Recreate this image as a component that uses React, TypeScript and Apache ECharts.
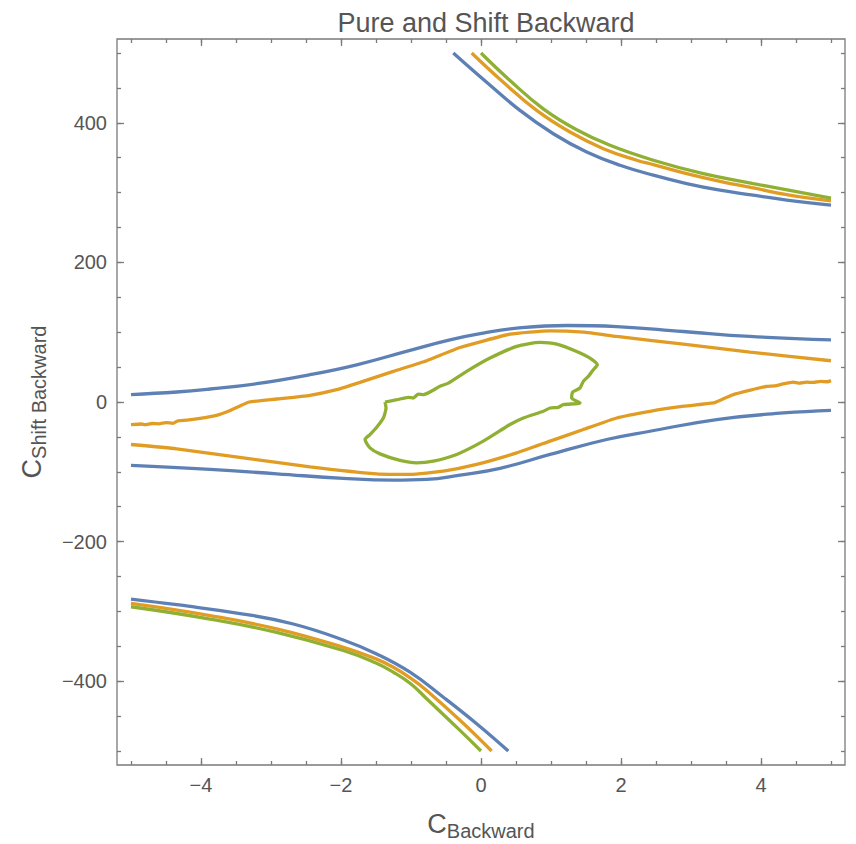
import React, { useEffect, useRef } from "react";
import * as echarts from "echarts";

const titleText = "Pure and Shift Backward";
const xMajorTicks = [-4, -2, 0, 2, 4];
const xMinorTicks = [-5, -4.5, -4, -3.5, -3, -2.5, -2, -1.5, -1, -0.5, 0, 0.5, 1, 1.5, 2, 2.5, 3, 3.5, 4, 4.5, 5];
const yMajorTicks = [-400, -200, 0, 200, 400];
const yMinorTicks = [-500, -450, -400, -350, -300, -250, -200, -150, -100, -50, 0, 50, 100, 150, 200, 250, 300, 350, 400, 450, 500];

// Level 1 (blue)
const blueUpper = [[-0.396, 500], [0.081, 458], [0.557, 417.7], [1.033, 384.3], [1.51, 358.1], [1.986, 339.1], [2.462, 324.9], [2.938, 312.9], [3.414, 303.4], [3.89, 296.3], [4.367, 289.1], [5.0, 282]];
const blueMidTop = [[-5.0, 10.6], [-4.347, 14.3], [-3.871, 18.6], [-3.204, 26.2], [-2.443, 39.1], [-1.776, 53.3], [-1.014, 74], [-0.443, 89], [0.033, 98.6], [0.51, 105.7], [1.224, 109.6], [1.938, 108.1], [2.89, 101], [3.843, 93.9], [5.0, 89.1]];
const blueMidBottom = [[-5.0, -90.9], [-3.871, -96.6], [-2.919, -102.9], [-1.967, -109.4], [-1.252, -111.9], [-0.776, -110.9], [-0.3, -104.7], [0.271, -95], [0.986, -75.1], [1.795, -53.7], [2.414, -41.9], [3.367, -25.1], [4.319, -15.7], [5.0, -11.9]];
const blueLower = [[-5.0, -282.3], [-4.347, -290.4], [-3.395, -303.7], [-2.681, -318], [-1.967, -340.9], [-1.49, -360.9], [-1.014, -387.1], [-0.538, -422.9], [-0.062, -460.9], [0.39, -500]];

// Level 2 (orange)
const orangeUpper = [[-0.133, 500], [0.319, 458], [0.795, 417.7], [1.271, 386.7], [1.748, 362.9], [2.224, 346.3], [2.462, 340], [2.938, 327.1], [3.414, 316], [3.89, 306.7], [4.367, 297], [5.0, 288]];
const orangeMidTop = [[-5.0, -32.3], [-4.85, -31.5], [-4.8, -32.5], [-4.7, -30.8], [-4.6, -31.2], [-4.5, -29.5], [-4.4, -30.5], [-4.33, -27], [-4.2, -26], [-3.776, -19], [-3.6, -13], [-3.45, -6], [-3.31, 0], [-2.919, 4.3], [-2.443, 9.6], [-2.062, 17.7], [-1.729, 28.1], [-1.252, 43.9], [-0.776, 59.1], [-0.3, 78], [0.414, 97.1], [0.986, 102], [1.462, 100], [1.938, 93.9], [2.89, 82.9], [3.843, 71.4], [5.0, 59.1]];
const orangeMidBottom = [[-5.0, -60.9], [-4.347, -67.1], [-3.395, -80], [-2.443, -92.9], [-1.49, -102.9], [-1.014, -103.7], [-0.538, -99], [-0.062, -89.4], [0.51, -72.9], [0.986, -56.1], [1.462, -39.4], [1.938, -22.9], [2.414, -13.3], [2.9, -6], [3.319, -1.4], [3.45, 4], [3.605, 10.6], [3.85, 17], [4.081, 22.4], [4.2, 23], [4.3, 25.5], [4.462, 28.6], [4.55, 27], [4.65, 28.5], [4.75, 28], [4.85, 29.5], [4.95, 29], [5.0, 30.6]];
const orangeLower = [[-5.0, -288.6], [-3.871, -306], [-2.919, -325], [-1.967, -351.4], [-1.5, -368], [-1.252, -380], [-1.0, -396], [-0.776, -413.3], [-0.3, -456], [0.152, -500]];

// Level 3 (green)
const greenUpper = [[0, 500], [0.414, 460.6], [0.89, 420], [1.367, 390], [1.843, 367.7], [2.462, 346.3], [3.176, 327.1], [3.89, 312.9], [5.0, 292]];
const greenLoop = [[-1.371, 0], [-1.2, 3.3], [-1.038, 6.7], [-0.967, 5.7], [-0.895, 11.4], [-0.824, 10.5], [-0.586, 22.4], [-0.467, 27.1], [-0.205, 43.9], [0.129, 62.9], [0.51, 79.6], [0.843, 85.3], [1.081, 82.9], [1.367, 72.4], [1.557, 62.9], [1.662, 53.4], [1.605, 46.3], [1.533, 36.7], [1.462, 29.6], [1.414, 20], [1.31, 14.3], [1.295, 5.7], [1.414, -1.4], [1.176, -3.8], [1.105, -7.6], [0.986, -8.6], [0.89, -13.3], [0.605, -22.9], [0.414, -32.3], [0.033, -56.1], [-0.347, -75.1], [-0.681, -84.7], [-0.919, -87.1], [-1.157, -83.7], [-1.443, -74.3], [-1.586, -65.7], [-1.657, -53.7], [-1.586, -46.6], [-1.49, -36.1], [-1.395, -22.9], [-1.357, -8.6], [-1.371, 0]];
const greenLower = [[-5.0, -293.3], [-3.871, -310.9], [-2.919, -330], [-1.967, -356], [-1.5, -374], [-1.252, -387.1], [-1.0, -404], [-0.776, -425.1], [-0.3, -470.4], [0, -500]];

const BLUE = "#5E81B5";
const ORANGE = "#E19C24";
const GREEN = "#8FB032";
const FRAME = "#7a7a7a";
const TEXT = "#555555";
const FONT = "'Liberation Sans', Arial, sans-serif";

const fmt = (v: number) => String(v).replace("-", "\u2212");

export default function App() {
  const ref = useRef<HTMLDivElement>(null);
  useEffect(() => {
    document.body.style.margin = "0";
    const chart = echarts.init(ref.current!, undefined, { renderer: "svg" });
    const X = { min: -5.2, max: 5.2 };
    const Y = { min: -520, max: 520 };
    const tickStyle = { color: FRAME, width: 1.3 };
    const mk = (range: any, pos: string, vals: number[], len: number, labels: boolean, extra: any = {}) => ({
      type: "value", ...range, position: pos,
      axisLine: { show: false, onZero: false }, splitLine: { show: false },
      axisTick: { show: true, inside: true, length: len, customValues: vals, lineStyle: tickStyle },
      axisLabel: labels
        ? { show: true, customValues: vals, formatter: fmt, color: TEXT, fontSize: 20, fontFamily: FONT, margin: 10 }
        : { show: false },
      ...extra,
    });
    const rich = {
      c: { fontSize: 27, color: TEXT, fontFamily: FONT },
      s: { fontSize: 20, color: TEXT, fontFamily: FONT, padding: [14, 0, 0, 0] },
    };
    const line = (name: string, data: number[][], color: string, smooth = 0.45) => ({
      type: "line", name, data, showSymbol: false, smooth,
      xAxisIndex: 0, yAxisIndex: 0,
      lineStyle: { color, width: 3.3 }, itemStyle: { color },
    });
    chart.setOption({
      animation: false,
      title: {
        text: titleText, left: 481, top: 4, textAlign: "center",
        textStyle: { fontSize: 27, fontWeight: "normal", color: TEXT, fontFamily: FONT },
      },
      grid: {
        left: 117, top: 39, width: 728, height: 726, show: true,
        borderColor: FRAME, borderWidth: 1.3, outerBoundsMode: "none",
      },
      xAxis: [
        mk(X, "bottom", xMajorTicks, 7, true, {
          name: "{c|C}{s|Backward}", nameLocation: "middle", nameGap: 42,
          nameTextStyle: { rich },
        }),
        mk(X, "bottom", xMinorTicks, 4, false),
        mk(X, "top", xMajorTicks, 7, false),
        mk(X, "top", xMinorTicks, 4, false),
      ],
      yAxis: [
        mk(Y, "left", yMajorTicks, 7, true, {
          name: "{c|C}{s|Shift Backward}", nameLocation: "middle", nameGap: 68,
          nameTextStyle: { rich },
        }),
        mk(Y, "left", yMinorTicks, 4, false),
        mk(Y, "right", yMajorTicks, 7, false),
        mk(Y, "right", yMinorTicks, 4, false),
      ],
      series: [
        line("blue upper", blueUpper, BLUE),
        line("blue middle top", blueMidTop, BLUE),
        line("blue middle bottom", blueMidBottom, BLUE),
        line("blue lower", blueLower, BLUE),
        line("orange upper", orangeUpper, ORANGE),
        line("orange middle top", orangeMidTop, ORANGE, 0.15),
        line("orange middle bottom", orangeMidBottom, ORANGE, 0.15),
        line("orange lower", orangeLower, ORANGE),
        line("green upper", greenUpper, GREEN),
        line("green loop", greenLoop, GREEN, 0.2),
        line("green lower", greenLower, GREEN),
      ],
    });
    return () => chart.dispose();
  }, []);
  return <div ref={ref} style={{ width: 856, height: 844 }} />;
}
